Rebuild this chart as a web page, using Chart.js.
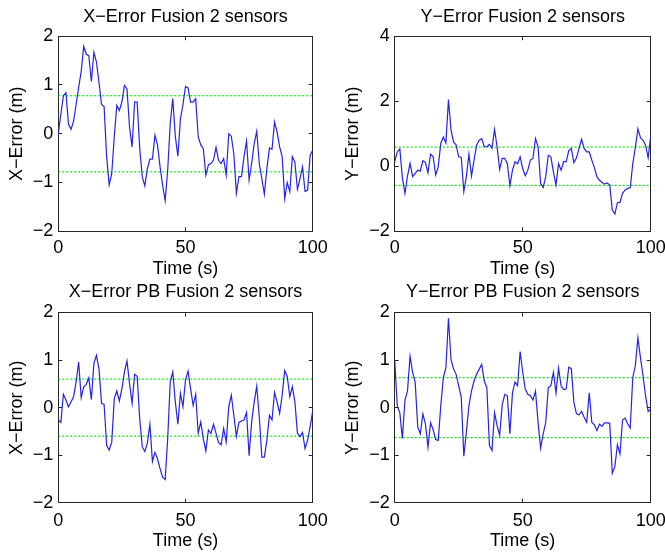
<!DOCTYPE html>
<html>
<head>
<meta charset="utf-8">
<script src="https://cdn.jsdelivr.net/npm/chart.js@4.4.1/dist/chart.umd.min.js"></script>
<style>
  body { margin: 0; background: #fff; }
  #wrap { position: relative; width: 665px; height: 552px; }
  canvas { position: absolute; left: 0; top: 0; }
</style>
</head>
<body>
<div id="wrap">
  <canvas id="c1" width="665" height="552"></canvas>
  <canvas id="c2" width="665" height="552"></canvas>
  <canvas id="c3" width="665" height="552"></canvas>
  <canvas id="c4" width="665" height="552"></canvas>
</div>
<script>
// time axis, 1 s per sample
const time = Array.from({ length: 101 }, (_, i) => i);

const xErrFusion = [
  0.0, 0.4, 0.78, 0.84, 0.2, 0.09, 0.26, 0.6, 0.95, 1.28,
  1.79, 1.63, 1.6, 1.07, 1.67, 1.47, 1.05, 0.6, 0.56, -0.47,
  -1.05, -0.82, -0.06, 0.58, 0.48, 0.65, 0.99, 0.92, 0.14, -0.27,
  0.65, 0.65, -0.3, -0.88, -1.07, -0.72, -0.52, -0.52, -0.03, -0.23,
  -0.68, -1.05, -1.37, -0.75, 0.21, 0.72, -0.06, -0.46, 0.3, 0.6,
  0.97, 0.94, 0.65, 0.65, 0.72, -0.06, -0.23, -0.3, -0.85, -0.64,
  -0.61, -0.54, -0.28, -0.55, -0.61, -0.51, -0.85, 0.0, -0.05, -0.41,
  -1.22, -0.88, -0.88, -0.47, -0.15, -0.95, -0.61, -0.2, 0.05, -0.61,
  -0.92, -1.24, -0.71, -0.29, -0.32, 0.24, 0.04, -0.27, -0.47, -1.33,
  -1.0, -1.19, -0.47, -0.58, -1.14, -0.92, -0.68, -1.18, -1.16, -0.44,
  -0.34
];

const yErrFusion = [
  0.14, 0.44, 0.53, -0.35, -0.83, -0.3, 0.09, -0.32, -0.22, -0.12,
  -0.15, 0.17, 0.12, -0.2, 0.37, 0.3, -0.27, -0.02, 0.7, 0.9,
  0.72, 2.05, 1.11, 0.75, 0.65, 0.29, 0.27, -0.78, -0.32, 0.37,
  -0.3, 0.19, 0.65, 0.8, 0.85, 0.6, 0.6, 0.67, 0.55, 1.13,
  0.6, -0.1, 0.24, 0.24, 0.08, -0.6, -0.12, 0.14, 0.08, 0.29,
  -0.07, -0.29, -0.12, 0.19, 0.24, 0.85, 0.6, -0.53, -0.65, -0.32,
  0.34, 0.29, -0.17, -0.58, 0.08, -0.12, 0.14, 0.14, 0.48, 0.55,
  0.11, 0.26, 0.55, 0.83, 0.55, 0.44, 0.44, 0.19, -0.04, -0.32,
  -0.43, -0.5, -0.55, -0.51, -0.58, -1.35, -1.47, -1.12, -1.11, -0.83,
  -0.73, -0.68, -0.66, 0.08, 0.58, 1.15, 0.88, 0.8, 0.65, 0.26,
  0.92
];

const xErrPB = [
  -0.26, -0.31, 0.28, 0.16, 0.02, 0.12, 0.23, 0.54, 0.96, 0.21,
  0.44, 0.49, 0.63, 0.17, 0.93, 1.1, 0.81, 0.09, 0.07, -0.79,
  -0.89, -0.73, 0.19, 0.35, 0.14, 0.4, 0.75, 0.98, 0.51, 0.09,
  0.7, 0.66, -0.23, -0.82, -0.92, -0.75, -0.35, -1.13, -0.94, -1.08,
  -1.28, -1.46, -1.51, -0.65, 0.54, 0.75, 0.12, -0.35, 0.3, 0.02,
  0.58, 0.77, 0.4, 0.05, 0.28, -0.54, -0.3, -0.65, -0.91, -0.47,
  -0.54, -0.35, -0.54, -0.73, -0.78, -0.44, -0.72, 0.02, 0.26, -0.16,
  -0.6, -0.31, -0.28, -0.26, -0.1, -1.01, -0.3, 0.12, 0.45, -0.19,
  -1.04, -1.04, -0.68, -0.16, -0.26, 0.32, 0.12, -0.12, 0.26, 0.78,
  0.65, 0.23, 0.44, 0.12, -0.54, -0.61, -0.52, -0.86, -0.68, -0.4,
  -0.07
];

const yErrPB = [
  1.01, 0.04, -0.11, -0.65, 0.16, 0.35, 1.08, 0.74, 0.53, -0.41,
  -0.55, -0.13, -0.34, -0.83, -0.32, -0.46, -0.67, -0.69, 0.04, 0.63,
  0.84, 1.88, 1.01, 0.81, 0.7, 0.46, 0.22, -1.02, -0.51, 0.04,
  0.35, 0.56, 0.7, 0.81, 0.91, 0.56, 0.42, -0.79, -0.9, -0.11,
  -0.38, -0.58, 0.06, 0.28, 0.25, -0.55, 0.31, 0.54, 0.46, 1.18,
  0.75, 0.39, 0.28, 0.25, 0.16, 0.35, -0.31, -0.85, -0.55, -0.31,
  0.42, 0.46, 0.74, 0.31, 0.83, 0.46, 0.38, 0.39, 0.85, 0.82,
  0.11, -0.13, -0.15, -0.08, -0.2, -0.31, 0.31, -0.31, -0.36, -0.48,
  -0.35, -0.39, -0.32, -0.32, -0.33, -1.38, -1.24, -0.78, -0.97, -0.26,
  -0.22, -0.34, -0.43, 0.63, 0.88, 1.47, 1.05, 0.67, 0.25, -0.08,
  -0.03
];

// +/- bounds (green dotted)
const boundXFusion = [0.78, -0.78];
const boundYFusion = [0.59, -0.59];
const boundXPB = [0.6, -0.6];
const boundYPB = [0.63, -0.63];

const titles = [
  "X\u2212Error Fusion 2 sensors",
  "Y\u2212Error Fusion 2 sensors",
  "X\u2212Error PB Fusion 2 sensors",
  "Y\u2212Error PB Fusion 2 sensors",
];
const yLabels = ["X\u2212Error (m)", "Y\u2212Error (m)", "X\u2212Error (m)", "Y\u2212Error (m)"];
const xLabel = "Time (s)";

const W = 665, H = 552;
const FS = 18, LH = FS * 1.2;
const FAMILY = "'Liberation Sans', Arial, Helvetica, sans-serif";
const BLUE = "#2424e2";
const GREEN = "#10e010";
const AXIS = "#262626";

const panels = [
  { id: "c1", title: titles[0], ylabel: yLabels[0], values: xErrFusion, bound: boundXFusion,
    yMin: -2, yMax: 2, yStep: 1,
    area: { left: 58.3, right: 312.7, top: 36.2, bottom: 231.3 }, titleY: 17, ylabelX: 17, xlabelY: 269, xTickGap: 6 },
  { id: "c2", title: titles[1], ylabel: yLabels[1], values: yErrFusion, bound: boundYFusion,
    yMin: -2, yMax: 4, yStep: 2,
    area: { left: 394.7, right: 650.7, top: 36.2, bottom: 231.3 }, titleY: 17, ylabelX: 353.4, xlabelY: 269, xTickGap: 6 },
  { id: "c3", title: titles[2], ylabel: yLabels[2], values: xErrPB, bound: boundXPB,
    yMin: -2, yMax: 2, yStep: 1,
    area: { left: 58.3, right: 312.7, top: 312.5, bottom: 502.8 }, titleY: 292, ylabelX: 17, xlabelY: 540.7, xTickGap: 7.5 },
  { id: "c4", title: titles[3], ylabel: yLabels[3], values: yErrPB, bound: boundYPB,
    yMin: -2, yMax: 2, yStep: 1,
    area: { left: 394.7, right: 650.7, top: 312.5, bottom: 502.8 }, titleY: 292, ylabelX: 353.4, xlabelY: 540.7, xTickGap: 7.5 },
];

const font = { family: FAMILY, size: FS, weight: "normal", lineHeight: 1.2 };
const fmt = (v) => (v < 0 ? "\u2212" + Math.abs(v) : String(v));

function makeChart(p) {
  const a = p.area;
  const titleTop = p.titleY - LH / 2;
  const yScaleLeft = p.ylabelX - LH / 2;
  const xScaleBottom = p.xlabelY + LH / 2;
  const tick = { drawOnChartArea: false, drawTicks: true, tickLength: -4, color: AXIS, lineWidth: 1 };

  return new Chart(document.getElementById(p.id), {
    type: "line",
    data: {
      datasets: [
        {
          data: time.map((t, i) => ({ x: t, y: p.values[i] })),
          borderColor: BLUE,
          borderWidth: 1.2,
          pointRadius: 0,
          tension: 0,
        },
        {
          data: [{ x: 0, y: p.bound[0] }, { x: 100, y: p.bound[0] }],
          borderColor: GREEN,
          borderWidth: 1.2,
          borderDash: [2, 2],
          pointRadius: 0,
        },
        {
          data: [{ x: 0, y: p.bound[1] }, { x: 100, y: p.bound[1] }],
          borderColor: GREEN,
          borderWidth: 1.2,
          borderDash: [2, 2],
          pointRadius: 0,
        },
      ],
    },
    options: {
      responsive: false,
      animation: false,
      devicePixelRatio: 1,
      events: [],
      layout: {
        padding: { left: yScaleLeft, top: titleTop, right: W - a.right, bottom: H - xScaleBottom },
      },
      plugins: {
        legend: { display: false },
        tooltip: { enabled: false },
        title: {
          display: true,
          text: p.title,
          fullSize: false,
          color: "#000",
          font: font,
          padding: { top: 0, bottom: a.top - (titleTop + LH) },
        },
      },
      scales: {
        x: {
          type: "linear",
          position: "bottom",
          min: 0,
          max: 100,
          ticks: { stepSize: 50, padding: p.xTickGap + 4, color: "#000", font: font, maxRotation: 0, autoSkip: false },
          grid: tick,
          border: { color: AXIS, width: 1 },
          title: { display: true, text: xLabel, color: "#000", font: font, padding: 0 },
          afterFit: (s) => {
            s.height = xScaleBottom - a.bottom;
            s.paddingLeft = 0;
            s.paddingRight = 0;
          },
        },
        y: {
          type: "linear",
          position: "left",
          min: p.yMin,
          max: p.yMax,
          ticks: { stepSize: p.yStep, padding: 9, color: "#000", font: font, callback: fmt },
          grid: tick,
          border: { color: AXIS, width: 1 },
          title: { display: true, text: p.ylabel, color: "#000", font: font, padding: 0 },
          afterFit: (s) => {
            s.width = a.left - yScaleLeft;
            s.paddingTop = 0;
            s.paddingBottom = 0;
          },
        },
        x2: {
          type: "linear",
          position: "top",
          min: 0,
          max: 100,
          ticks: { display: false, stepSize: 50 },
          grid: tick,
          border: { color: AXIS, width: 1 },
          afterFit: (s) => {
            s.height = 0;
            s.paddingLeft = 0;
            s.paddingRight = 0;
          },
        },
        y2: {
          type: "linear",
          position: "right",
          min: p.yMin,
          max: p.yMax,
          ticks: { display: false, stepSize: p.yStep },
          grid: tick,
          border: { color: AXIS, width: 1 },
          afterFit: (s) => {
            s.width = 0;
            s.paddingTop = 0;
            s.paddingBottom = 0;
          },
        },
      },
    },
  });
}

panels.forEach(makeChart);
</script>
</body>
</html>
